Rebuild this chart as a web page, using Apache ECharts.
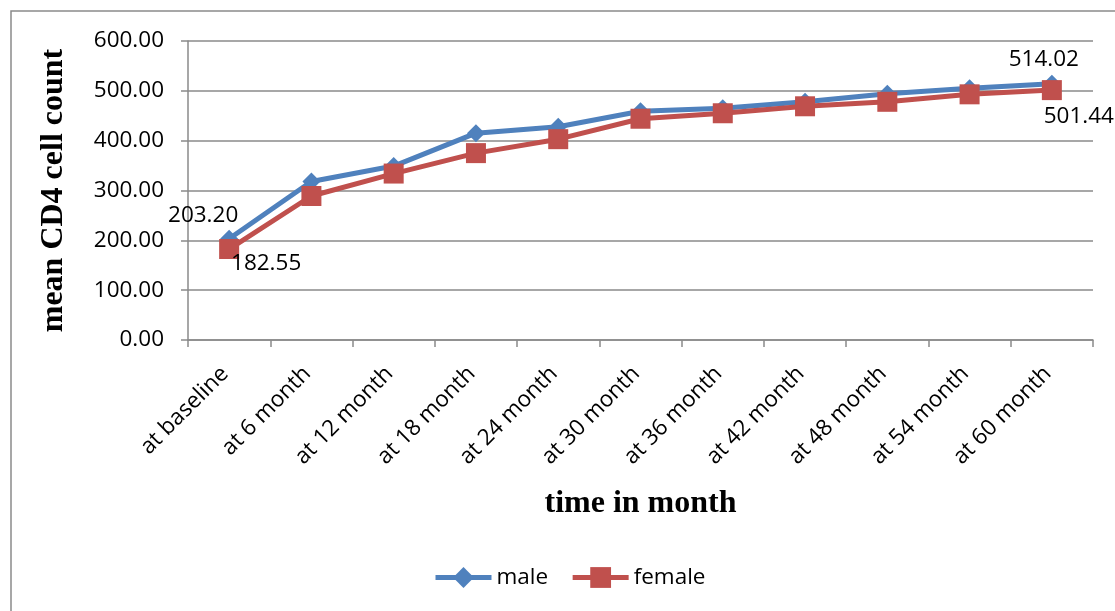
<!DOCTYPE html>
<html>
<head>
<meta charset="utf-8">
<script src="https://cdn.jsdelivr.net/npm/echarts@6/dist/echarts.min.js"></script>
<style>
  html, body { margin: 0; padding: 0; background: #fff; }
  #chart { width: 1115px; height: 611px; }
</style>
</head>
<body>
<div id="chart"></div>
<script>
// Mean CD4 cell count over follow-up, by sex
const categories = ['at baseline', 'at 6 month', 'at 12 month', 'at 18 month', 'at 24 month',
  'at 30 month', 'at 36 month', 'at 42 month', 'at 48 month', 'at 54 month', 'at 60 month'];
const maleValues = [203.20, 318, 349, 415, 428, 459, 465, 478, 494, 505, 514.02];
const femaleValues = [182.55, 289, 334, 375, 403, 444, 455, 469, 478, 493, 501.44];
const yTicks = { min: 0, max: 600, interval: 100 };

const LABEL_FONT = '"Open Sans", "DejaVu Sans", sans-serif';
const TITLE_FONT = '"Liberation Serif", "DejaVu Serif", serif';
const LABEL_SIZE = 22.5;

// Only the first and last point of each series carry a value label
function withEndLabels(values, firstOffset, lastOffset) {
  return values.map((v, i) => {
    if (i === 0 || i === values.length - 1) {
      return {
        value: v,
        label: {
          show: true,
          position: 'inside',
          offset: i === 0 ? firstOffset : lastOffset,
          formatter: p => p.value.toFixed(2),
          color: '#000',
          fontFamily: LABEL_FONT,
          fontSize: LABEL_SIZE
        }
      };
    }
    return v;
  });
}

const chart = echarts.init(document.getElementById('chart'), null, { renderer: 'canvas' });
chart.setOption({
  animation: false,
  backgroundColor: '#fff',
  graphic: [{
    type: 'rect',
    shape: { x: 11, y: 11, width: 1200, height: 700 },
    style: { fill: 'none', stroke: '#8a8a8a', lineWidth: 1.5 },
    silent: true
  }],
  grid: { left: 188, right: 22, top: 41, bottom: 271 },
  legend: {
    bottom: 17,
    left: 428,
    itemWidth: 56,
    itemHeight: 26,
    itemGap: 22,
    lineStyle: { width: 5 },
    textStyle: { fontFamily: LABEL_FONT, fontSize: LABEL_SIZE, color: '#000' },
    data: ['male', 'female']
  },
  xAxis: {
    type: 'category',
    data: categories,
    boundaryGap: true,
    name: 'time in month',
    nameLocation: 'middle',
    nameGap: 148,
    nameTextStyle: { fontFamily: TITLE_FONT, fontSize: 32, fontWeight: 'bold', color: '#000' },
    axisLine: { lineStyle: { color: '#8a8a8a', width: 1.5 } },
    axisTick: { show: true, length: 7, lineStyle: { color: '#8a8a8a', width: 1.5 } },
    axisLabel: {
      rotate: 45,
      margin: 26,
      padding: [0, 6, 0, 0],
      interval: 0,
      fontFamily: LABEL_FONT,
      fontSize: LABEL_SIZE,
      color: '#000'
    }
  },
  yAxis: {
    type: 'value',
    min: yTicks.min,
    max: yTicks.max,
    interval: yTicks.interval,
    name: 'mean CD4 cell count',
    nameLocation: 'middle',
    nameGap: 118,
    nameRotate: 90,
    nameTextStyle: { fontFamily: TITLE_FONT, fontSize: 32, fontWeight: 'bold', color: '#000' },
    axisLine: { show: true, lineStyle: { color: '#8a8a8a', width: 1.5 } },
    axisTick: { show: true, length: 7, lineStyle: { color: '#8a8a8a', width: 1.5 } },
    axisLabel: {
      margin: 24,
      formatter: v => v.toFixed(2),
      fontFamily: LABEL_FONT,
      fontSize: LABEL_SIZE,
      color: '#000'
    },
    splitLine: { show: true, lineStyle: { color: '#8a8a8a', width: 1.5 } }
  },
  series: [
    {
      name: 'male',
      type: 'line',
      data: withEndLabels(maleValues, [-26, -23], [-8, -24]),
      symbol: 'diamond',
      symbolSize: 18,
      showAllSymbol: true,
      lineStyle: { color: '#4F81BD', width: 5 },
      itemStyle: { color: '#4F81BD' },
      z: 2
    },
    {
      name: 'female',
      type: 'line',
      data: withEndLabels(femaleValues, [37, 15], [27, 26]),
      symbol: 'rect',
      symbolSize: 20,
      showAllSymbol: true,
      lineStyle: { color: '#C0504D', width: 5 },
      itemStyle: { color: '#C0504D' },
      z: 3
    }
  ]
});
</script>
</body>
</html>
